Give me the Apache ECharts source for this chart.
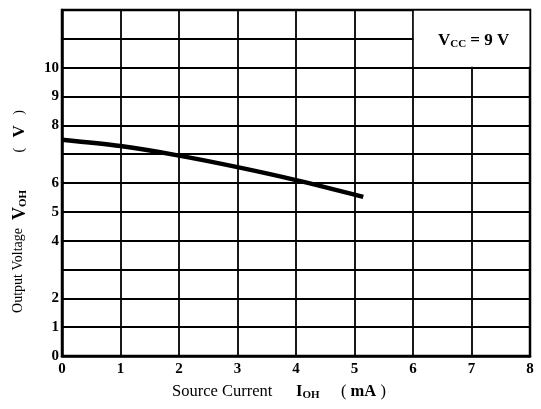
<!DOCTYPE html>
<html>
<head>
<meta charset="utf-8">
<script src="https://cdn.jsdelivr.net/npm/echarts@6/dist/echarts.min.js"></script>
<style>
  html, body { margin: 0; padding: 0; background: #fff; }
  #chart { width: 541px; height: 409px; }
</style>
</head>
<body>
<div id="chart"></div>
<script>
// source current I_OH (mA) vs output voltage V_OH (V)
var currentMA = [0, 1, 2, 3, 4, 5.15];
var voltageV = [7.5, 7.28, 6.95, 6.55, 6.1, 5.52];
var xTicks = [0, 1, 2, 3, 4, 5, 6, 7, 8];
var yTickLabels = [0, 1, 2, 4, 5, 6, 8, 9, 10]; // 3, 7, 11, 12 unlabeled

var serif = '"Liberation Serif", "DejaVu Serif", serif';
var chart = echarts.init(document.getElementById('chart'));

// rotated pieces of the y axis title, reading bottom to top
function vText(top, text, rich) {
    return {
        type: 'text', left: 11, top: top, rotation: Math.PI / 2,
        style: { text: text, fontFamily: serif, fontSize: 14, fill: '#000', rich: rich || {} }
    };
}

var option = {
    animation: false,
    backgroundColor: '#fff',
    grid: { left: 62, right: 11, top: 10, bottom: 53, show: true, borderColor: '#000', borderWidth: 2.5 },
    xAxis: {
        type: 'value',
        min: 0, max: 8, interval: 1,
        axisLine: { show: true, lineStyle: { color: '#000', width: 2.5 } },
        axisTick: { show: false },
        splitLine: { show: true, lineStyle: { color: '#000', width: 1.8 } },
        axisLabel: {
            color: '#000', fontFamily: serif, fontSize: 15, fontWeight: 'bold', margin: 6,
            formatter: function (v) { return xTicks.indexOf(v) >= 0 ? String(v) : ''; }
        }
    },
    yAxis: {
        type: 'value',
        min: 0, max: 12, interval: 1,
        axisLine: { show: true, lineStyle: { color: '#000', width: 2.5 } },
        axisTick: { show: false },
        splitLine: { show: true, lineStyle: { color: '#000', width: 1.8 } },
        axisLabel: {
            color: '#000', fontFamily: serif, fontSize: 15, fontWeight: 'bold', margin: 3,
            formatter: function (v) { return yTickLabels.indexOf(v) >= 0 ? String(v) : ''; }
        }
    },
    series: [{
        type: 'line',
        data: currentMA.map(function (x, i) { return [x, voltageV[i]]; }),
        smooth: 0.3,
        symbol: 'none',
        lineStyle: { color: '#000', width: 4.5 },
        markArea: {
            silent: true,
            itemStyle: { color: '#fff' },
            label: {
                show: true, position: 'inside', fontFamily: serif, fontSize: 17, fontWeight: 'bold', color: '#000',
                offset: [2, 2],
                formatter: 'V{s|CC} = 9 V',
                rich: { s: { fontFamily: serif, fontSize: 11, fontWeight: 'bold', color: '#000', padding: [7, 0, 0, 0] } }
            },
            data: [[{ coord: [6.015, 10.03] }, { coord: [7.99, 11.97] }]]
        }
    }],
    graphic: [
        vText(228, 'Output Voltage'),
        vText(190, '{b|V}{s|OH}', {
            b: { fontFamily: serif, fontSize: 18, fontWeight: 'bold', fill: '#000' },
            s: { fontFamily: serif, fontSize: 11, fontWeight: 'bold', fill: '#000', padding: [7, 0, 0, 0] }
        }),
        vText(110, '(   {b|V}   )', {
            b: { fontFamily: serif, fontSize: 17, fontWeight: 'bold', fill: '#000' }
        }),
        {
            type: 'text', left: 172, top: 383,
            style: { text: 'Source Current', fontFamily: serif, fontSize: 16.5, fill: '#000' }
        },
        {
            type: 'text', left: 296, top: 383,
            style: {
                text: 'I{s|OH}', fontFamily: serif, fontSize: 16.5, fontWeight: 'bold', fill: '#000',
                rich: { s: { fontFamily: serif, fontSize: 11, fontWeight: 'bold', fill: '#000', padding: [7, 0, 0, 0] } }
            }
        },
        {
            type: 'text', left: 341, top: 383,
            style: {
                text: '( {b|mA} )', fontFamily: serif, fontSize: 16.5, fill: '#000',
                rich: { b: { fontFamily: serif, fontSize: 16.5, fontWeight: 'bold', fill: '#000' } }
            }
        }
    ]
};
chart.setOption(option);
</script>
</body>
</html>
